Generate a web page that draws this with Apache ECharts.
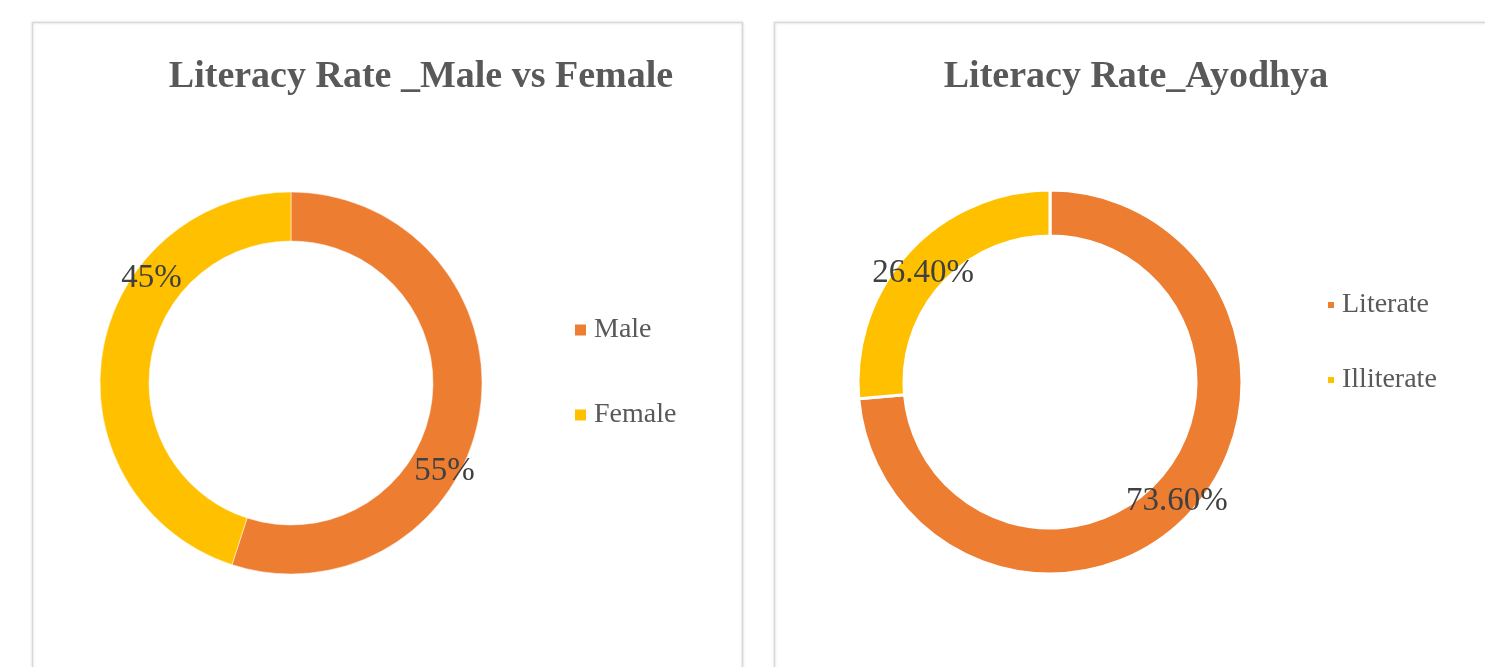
<!DOCTYPE html>
<html>
<head>
<meta charset="utf-8">
<script src="https://cdn.jsdelivr.net/npm/echarts@6/dist/echarts.min.js"></script>
<style>
html,body{margin:0;padding:0;background:#fff;}
#c{width:1485px;height:667px;}
</style>
</head>
<body>
<div id="c"></div>
<script>
// ---- data ----
const genderTitle = 'Literacy Rate _Male vs Female';
const genderCategories = ['Male', 'Female'];
const genderValues = [55, 45];
const genderLabels = ['55%', '45%'];

const ayodhyaTitle = 'Literacy Rate_Ayodhya';
const ayodhyaCategories = ['Literate', 'Illiterate'];
const ayodhyaValues = [73.6, 26.4];
const ayodhyaLabels = ['73.60%', '26.40%'];

const colors = { Male: '#ED7D31', Female: '#FFC000', Literate: '#ED7D31', Illiterate: '#FFC000' };

// label nudges (Excel best-fit placement)
const genderLabelOffsets = [[-14, 62], [28, -78]];
const ayodhyaLabelOffsets = [[0, 3], [0, 7]];

const chart = echarts.init(document.getElementById('c'), null, { renderer: 'canvas' });

const serif = '"Liberation Serif", "Times New Roman", serif';

function pieData(cats, vals, labels, offsets) {
  return cats.map((c, i) => ({
    name: c,
    value: vals[i],
    itemStyle: { color: colors[c] },
    label: { formatter: labels[i], offset: offsets[i] }
  }));
}

const labelStyle = {
  show: true,
  position: 'inside',
  fontFamily: serif,
  fontSize: 33,
  color: '#404040'
};

chart.setOption({
  animation: false,
  graphic: [
    { type: 'rect', shape: { x: 32.5, y: 22.5, width: 710, height: 700 },
      style: { fill: '#fff', stroke: '#d9d9d9', lineWidth: 1.5, shadowBlur: 3, shadowColor: 'rgba(0,0,0,0.12)' }, z: -10 },
    { type: 'rect', shape: { x: 774.5, y: 22.5, width: 760, height: 700 },
      style: { fill: '#fff', stroke: '#d9d9d9', lineWidth: 1.5, shadowBlur: 3, shadowColor: 'rgba(0,0,0,0.12)' }, z: -10 }
  ],
  title: [
    { text: genderTitle, left: 421, top: 58, textAlign: 'center', padding: 0,
      textStyle: { fontFamily: serif, fontWeight: 'bold', fontSize: 38, color: '#595959' } },
    { text: ayodhyaTitle, left: 1136, top: 58, textAlign: 'center', padding: 0,
      textStyle: { fontFamily: serif, fontWeight: 'bold', fontSize: 38, color: '#595959' } }
  ],
  legend: [
    { data: genderCategories, orient: 'vertical', left: 573, top: 316, itemGap: 57, padding: 0,
      icon: 'rect', itemWidth: 13, itemHeight: 13,
      textStyle: { fontFamily: serif, fontSize: 28, lineHeight: 28, color: '#595959', padding: [0, 0, 0, 2] } },
    { data: ayodhyaCategories, orient: 'vertical', left: 1326, top: 291, itemGap: 47, padding: 0,
      icon: 'rect', itemWidth: 8, itemHeight: 8,
      textStyle: { fontFamily: serif, fontSize: 28, lineHeight: 28, color: '#595959', padding: [0, 0, 0, 2] } }
  ],
  series: [
    {
      type: 'pie',
      center: [291, 383],
      radius: [142, 191],
      startAngle: 90,
      clockwise: true,
      avoidLabelOverlap: false,
      silent: true,
      label: labelStyle,
      labelLine: { show: false },
      itemStyle: { borderColor: '#fff', borderWidth: 0.5 },
      data: pieData(genderCategories, genderValues, genderLabels, genderLabelOffsets)
    },
    {
      type: 'pie',
      center: [1050, 382],
      radius: [146, 192],
      startAngle: 90,
      clockwise: true,
      avoidLabelOverlap: false,
      silent: true,
      label: labelStyle,
      labelLine: { show: false },
      itemStyle: { borderColor: '#fff', borderWidth: 3 },
      data: pieData(ayodhyaCategories, ayodhyaValues, ayodhyaLabels, ayodhyaLabelOffsets)
    }
  ]
});
</script>
</body>
</html>
